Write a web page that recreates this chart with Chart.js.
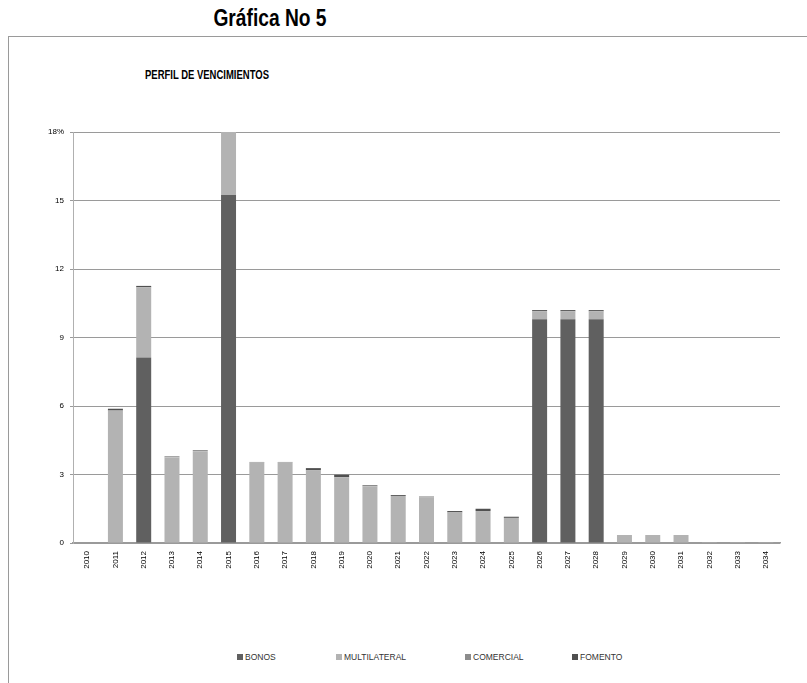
<!DOCTYPE html>
<html lang="es">
<head>
<meta charset="utf-8">
<title>Gráfica No 5</title>
<script src="https://cdn.jsdelivr.net/npm/chart.js@4/dist/chart.umd.min.js"></script>
<style>
  html, body { margin: 0; padding: 0; background: #fff; }
  #pagina { position: relative; width: 807px; height: 683px; overflow: hidden; }
  #titulo {
    position: absolute; left: 0; top: 4px; width: 540px; text-align: center;
    font: bold 24px "Liberation Sans", Arial, sans-serif;
    color: #000;
    transform: scaleX(0.8); transform-origin: 270px 0;
  }
  #marco {
    position: absolute; left: 8px; top: 36px; right: 0; bottom: 0;
    border-top: 1px solid #9a9a9a; border-left: 1px solid #9a9a9a;
  }
  #subtitulo {
    position: absolute; left: 145px; top: 68px;
    font: bold 12px "Liberation Sans", Arial, sans-serif;
    color: #000; white-space: nowrap;
    transform: scaleX(0.79); transform-origin: 0 0;
  }
  #grafico { position: absolute; left: 0; top: 0; }
  #leyenda { position: absolute; left: 0; top: 652px; width: 807px; height: 14px; }
  .item {
    position: absolute; top: 0;
    font: 8.5px "Liberation Sans", Arial, sans-serif; color: #333;
    white-space: nowrap; line-height: 10px;
  }
  .item i { display: inline-block; width: 6px; height: 6px; margin-right: 2px; vertical-align: 0; }
</style>
</head>
<body>
<div id="pagina">
  <div id="titulo">Gráfica No 5</div>
  <div id="marco"></div>
  <div id="subtitulo">PERFIL DE VENCIMIENTOS</div>
  <canvas id="grafico" width="807" height="585"></canvas>
  <div id="leyenda"></div>
</div>

<script>
// ===== datos =====
const anios = ["2010","2011","2012","2013","2014","2015","2016","2017","2018","2019","2020","2021",
  "2022","2023","2024","2025","2026","2027","2028","2029","2030","2031","2032","2033","2034"];

const series = ["BONOS", "MULTILATERAL", "COMERCIAL", "FOMENTO"];

const bonos =        [0, 0,    8.12, 0,    0,    15.24, 0,    0,    0,    0,    0,    0,
  0,    0,    0,    0,    9.80, 9.80, 9.80, 0,    0,    0,    0,    0,    0];
const multilateral = [0, 5.80, 3.08, 3.75, 4.02, 2.76,  3.52, 3.52, 3.18, 2.88, 2.48, 2.06,
  1.99, 1.34, 1.40, 1.10, 0.35, 0.35, 0.35, 0.35, 0.35, 0.35, 0.04, 0.04, 0.04];
const comercial =    [0, 0,    0,    0.05, 0.05, 0,     0.03, 0.03, 0,    0,    0.06, 0,
  0.05, 0,    0,    0,    0,    0,    0,    0,    0,    0,    0,    0,    0];
const fomento =      [0, 0.08, 0.06, 0,    0,    0,     0,    0,    0.10, 0.11, 0,    0.04,
  0,    0.06, 0.10, 0.05, 0.05, 0.05, 0.05, 0,    0,    0,    0,    0,    0];

const yTicks = [0, 3, 6, 9, 12, 15, 18];

const colores = ["#606060", "#b3b3b3", "#8c8c8c", "#505050"];

// ===== gráfico =====
const valores = [bonos, multilateral, comercial, fomento];
const datasets = series.map((nombre, i) => ({
  label: nombre,
  data: valores[i],
  backgroundColor: colores[i],
  borderWidth: 0,
  barPercentage: 0.53,
  categoryPercentage: 1,
}));

const fuenteEje = { family: "'Liberation Sans', Arial, sans-serif", size: 8 };

new Chart(document.getElementById("grafico"), {
  type: "bar",
  data: { labels: anios, datasets: datasets },
  options: {
    responsive: false,
    animation: false,
    layout: { padding: { top: 132, right: 27, left: 0, bottom: 0 } },
    plugins: { legend: { display: false }, tooltip: { enabled: false }, title: { display: false } },
    scales: {
      x: {
        stacked: true,
        grid: { display: false, drawTicks: false },
        border: { display: true, color: "#9a9a9a", width: 1.5 },
        ticks: { color: "#000", font: fuenteEje, minRotation: 90, maxRotation: 90, padding: 8, autoSkip: false },
        afterFit: (s) => { s.height = 42; },
      },
      y: {
        stacked: true,
        min: 0,
        max: 18,
        afterBuildTicks: (s) => { s.ticks = yTicks.map((v) => ({ value: v })); },
        grid: { color: "#9a9a9a", lineWidth: 1, tickLength: 3, drawTicks: true },
        border: { display: true, color: "#b0b0b0", width: 1 },
        ticks: {
          color: "#000",
          font: fuenteEje,
          padding: 6,
          callback: (v) => (v === 18 ? "18%" : v),
        },
        afterFit: (s) => { s.width = 73; },
      },
    },
  },
});

// ===== leyenda =====
const posLeyenda = [237, 336, 465, 572];
const leyenda = document.getElementById("leyenda");
series.forEach((nombre, i) => {
  const item = document.createElement("div");
  item.className = "item";
  item.style.left = posLeyenda[i] + "px";
  item.innerHTML = `<i style="background:${colores[i]}"></i>${nombre}`;
  leyenda.appendChild(item);
});
</script>
</body>
</html>
